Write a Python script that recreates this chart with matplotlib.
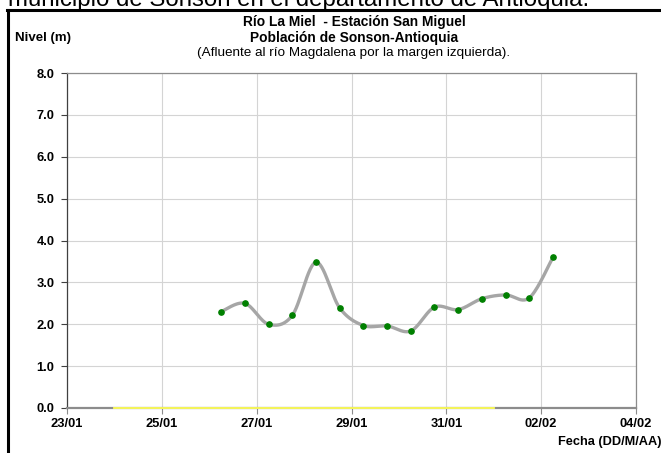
import numpy as np
import matplotlib
matplotlib.use('Agg')
import matplotlib.pyplot as plt
import matplotlib.dates as mdates
from matplotlib.lines import Line2D
from datetime import datetime, timedelta

plt.rcParams['font.family'] = ['Liberation Sans', 'DejaVu Sans']

# level readings every 12 h
start = datetime(2011, 1, 26, 6)
nivel = [2.30, 2.50, 2.00, 2.21, 3.48, 2.39, 1.97, 1.96, 1.84,
         2.41, 2.35, 2.61, 2.70, 2.63, 3.60]
fechas = [start + timedelta(hours=12 * i) for i in range(len(nivel))]

# yellow reference line on the axis
umbral_fechas = [datetime(2011, 1, 24), datetime(2011, 2, 1)]
umbral = [0.0, 0.0]

tick_fechas = [datetime(2011, 1, 23) + timedelta(days=2 * i) for i in range(7)]
y_ticks = [0, 1, 2, 3, 4, 5, 6, 7, 8]

W, H = 661, 453


def smooth(x, y, n=30):
    # catmull-rom style curve like the spreadsheet "smoothed line"
    x = np.asarray(x, float)
    y = np.asarray(y, float)
    px = np.concatenate([[x[0]], x, [x[-1]]])
    py = np.concatenate([[y[0]], y, [y[-1]]])
    xs, ys = [], []
    t = np.linspace(0, 1, n)
    for i in range(1, len(px) - 2):
        p0 = np.array([px[i], py[i]])
        p3 = np.array([px[i + 1], py[i + 1]])
        c1 = p0 + (p3 - np.array([px[i - 1], py[i - 1]])) / 6.0
        c2 = p3 - (np.array([px[i + 2], py[i + 2]]) - p0) / 6.0
        b = ((1 - t) ** 3)[:, None] * p0 + (3 * (1 - t) ** 2 * t)[:, None] * c1 \
            + (3 * (1 - t) * t ** 2)[:, None] * c2 + (t ** 3)[:, None] * p3
        xs.extend(b[:, 0])
        ys.extend(b[:, 1])
    return np.array(xs), np.array(ys)


fig = plt.figure(figsize=(W / 100, H / 100), dpi=100)
ax = fig.add_axes([67 / W, (H - 408) / H, 569 / W, 335 / H])

xnum = mdates.date2num(fechas)
sx, sy = smooth(xnum, nivel)
ax.plot(sx, sy, color='#a6a6a6', lw=2.4, zorder=3, solid_capstyle='round')
ax.plot(xnum, nivel, 'o', color='#008000', ms=3.8, zorder=4)
ax.plot(mdates.date2num(umbral_fechas), umbral, color='#ffff55', lw=1.3, zorder=5, clip_on=False)

ax.set_xlim(mdates.date2num(tick_fechas[0]), mdates.date2num(tick_fechas[-1]))
ax.set_ylim(0, 8)
ax.set_xticks(mdates.date2num(tick_fechas))
ax.xaxis.set_major_formatter(mdates.DateFormatter('%d/%m'))
ax.set_yticks(y_ticks)
ax.set_yticklabels(['%.1f' % v for v in y_ticks])

ax.grid(True, color='#d4d4d4', lw=0.8)
ax.set_axisbelow(True)
for s in ['top', 'right']:
    ax.spines[s].set_color('#8c8c8c')
    ax.spines[s].set_linewidth(0.9)
ax.spines['left'].set_color('#404040')
ax.spines['left'].set_linewidth(0.9)
ax.spines['bottom'].set_color('#8c8c8c')
ax.spines['bottom'].set_linewidth(1.6)
ax.tick_params(axis='y', length=4, width=0.8, color='#404040', pad=5,
               labelsize=9.3)
ax.tick_params(axis='x', length=4, width=0.8, color='#8c8c8c', pad=3,
               labelsize=9.3)
for lab in ax.get_xticklabels() + ax.get_yticklabels():
    lab.set_fontweight('bold')


def ft(x, y, s, **kw):
    fig.text(x / W, 1 - y / H, s, **kw)


cx = 354
ft(cx, 22, 'Río La Miel  - Estación San Miguel', ha='center', va='center',
   fontsize=9.9, fontweight='bold')
ft(cx, 38, 'Población de Sonson-Antioquia', ha='center', va='center',
   fontsize=9.9, fontweight='bold')
ft(cx, 53, '(Afluente al río Magdalena por la margen izquierda).', ha='center',
   va='center', fontsize=9.7)
ft(15, 38, 'Nivel (m)', ha='left', va='center', fontsize=9.5, fontweight='bold')
ft(661, 442, 'Fecha (DD/M/AA)', ha='right', va='center', fontsize=9.2,
   fontweight='bold')

# cut-off document text and frame above the chart
ft(8, 6, 'municipio de Sonson en el departamento de Antioquia.', ha='left',
   va='baseline', fontsize=17.3)
fig.add_artist(Line2D([7 / W, 1], [1 - 10 / H, 1 - 10 / H], color='black', lw=2.2))
fig.add_artist(Line2D([8 / W, 8 / W], [0, 1 - 10 / H], color='black', lw=2.2))

fig.savefig('out.png', dpi=100)
